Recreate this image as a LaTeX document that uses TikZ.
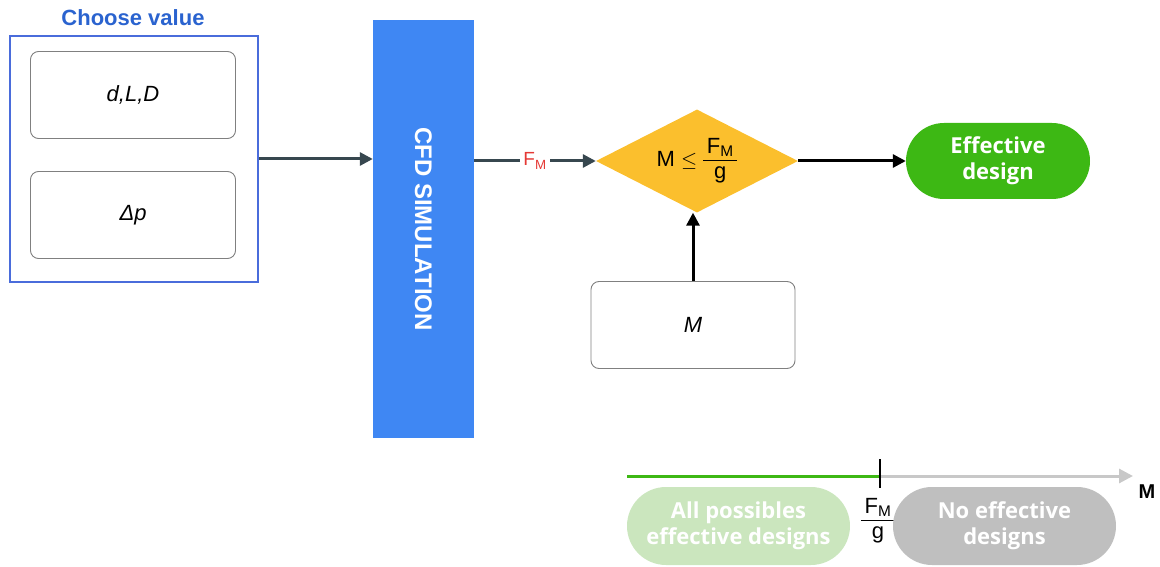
\documentclass[tikz,border=0pt]{standalone}
\usepackage{fontspec}
\setmainfont{Liberation Sans}
\newfontfamily\roundfont{Open Sans}
\usetikzlibrary{arrows.meta, positioning, shapes.geometric}

\definecolor{titleblue}{HTML}{2A63CF}
\definecolor{frameblue}{HTML}{4A6CDB}
\definecolor{cfdblue}{HTML}{3F87F3}
\definecolor{boxgray}{HTML}{808080}
\definecolor{slate}{HTML}{37474F}
\definecolor{decision}{HTML}{FBBF2D}
\definecolor{okgreen}{HTML}{3DB814}
\definecolor{palegreen}{HTML}{CBE6BE}
\definecolor{nogray}{HTML}{BFBFBF}
\definecolor{axisgray}{HTML}{C8C8C8}
\definecolor{fmred}{HTML}{E53935}

\newcommand{\fmg}{\begin{tabular}{@{\,}c@{\,}}F\textsubscript{M}\\[-1pt]\hline g\end{tabular}}

\begin{document}
\begin{tikzpicture}[x=1pt, y=-1pt,
    every node/.style={font=\fontsize{22}{26}\selectfont},
    valuebox/.style={draw=boxgray, line width=0.9pt, rounded corners=8pt,
        minimum width=205pt, minimum height=87pt, font=\fontsize{22}{26}\selectfont\itshape},
    pill/.style={rounded corners=38pt, minimum width=184pt, minimum height=76pt,
        text=white, align=center, font=\roundfont\fontsize{22}{26}\selectfont\bfseries},
    flow/.style={draw=slate, line width=3pt, -{Triangle[length=13pt,width=13pt]}},
    blackflow/.style={draw=black, line width=3pt, -{Triangle[length=13pt,width=13pt]}}]

    \useasboundingbox (0,0) rectangle (1160,567);

    % input values
    \node[text=titleblue, font=\fontsize{22}{26}\selectfont\bfseries] (title) at (133,18) {Choose value};
    \node[draw=frameblue, line width=2.5pt, minimum width=248pt, minimum height=246pt] (inputs) at (134,159) {};
    \node[valuebox] (geom) at (133,95) {d,L,D};
    \node[valuebox] (dp) at (133,215) {Δp};

    % simulation
    \node[fill=cfdblue, minimum width=101pt, minimum height=418pt] (cfd) at (423.5,229) {};
    \node[text=white, rotate=-90, font=\fontsize{24}{28}\selectfont\bfseries] (cfdtext) at (cfd.center) {CFD SIMULATION};

    % check
    \node[diamond, fill=decision, aspect=2, inner sep=0pt, minimum width=202pt, minimum height=103pt] (check) at (697,161) {M $\leq$ \fmg};
    \node[pill, fill=okgreen] (good) at (998,161) {Effective\\design};
    \node[valuebox, minimum width=204pt] (mass) at (693,325) {M};

    \draw[flow] (inputs.east) -- (inputs.east -| cfd.west);
    \draw[flow] (cfd.east |- check.west) -- node[fill=white, inner sep=3pt, text=fmred, font=\fontsize{19}{22}\selectfont] (fm) {F\textsubscript{M}} (check.west);
    \draw[blackflow] (check.east) -- (good.west);
    \draw[blackflow] (mass.north) -- (mass.north |- check.south);

    % axis
    \coordinate (axL) at (627,476);
    \coordinate (axR) at (1133,476);
    \coordinate (tk) at (880,476);
    \draw[axisgray, line width=3pt, -{Triangle[length=14pt,width=14pt]}] (axL) -- (axR);
    \draw[okgreen, line width=3pt] (axL) -- (tk);
    \draw[black, line width=1.2pt] ([yshift=17pt]tk) -- ([yshift=-12pt]tk);
    \node[font=\fontsize{20}{24}\selectfont\bfseries] (mlabel) at (1147,492) {M};
    \node[inner sep=0pt] (limit) at (878,521) {\fmg};
    \node[pill, fill=palegreen, minimum width=223pt, minimum height=78pt, rounded corners=39pt] (allgood) at (738.5,526) {All possibles\\effective designs};
    \node[pill, fill=nogray, minimum width=223pt, minimum height=78pt, rounded corners=39pt] (nogood) at (1004.5,526) {No effective\\designs};
\end{tikzpicture}
\end{document}
